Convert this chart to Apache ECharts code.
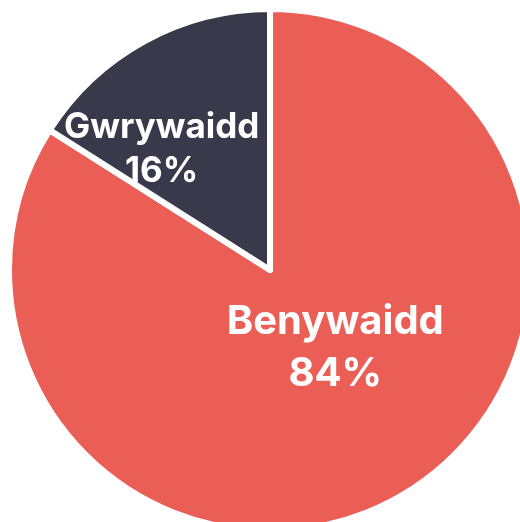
<!DOCTYPE html>
<html>
<head>
<meta charset="utf-8">
<script src="https://cdn.jsdelivr.net/npm/echarts@6/dist/echarts.min.js"></script>
<style>
html,body{margin:0;padding:0;background:#fff;}
#chart{width:520px;height:522px;}
</style>
</head>
<body>
<div id="chart"></div>
<script>
const categories = ["Benywaidd", "Gwrywaidd"];
const values = [84, 16];
const colors = ["#EA5E56", "#383A4C"];

const chart = echarts.init(document.getElementById('chart'));
const labelStyles = [
  { fontSize: 40, lineHeight: 52, offset: [1, -39] },
  { fontSize: 35, lineHeight: 44, offset: [-44, -4] }
];
chart.setOption({
  animation: false,
  series: [{
    type: 'pie',
    center: [270, 270],
    radius: [0, 261],
    startAngle: 90,
    clockwise: true,
    silent: true,
    itemStyle: { borderColor: '#fff', borderWidth: 6 },
    label: {
      show: true,
      position: 'inside',
      color: '#fff',
      fontFamily: 'Inter',
      fontWeight: 'bold',
      formatter: p => p.name + '\n' + Math.round(p.value) + '%'
    },
    labelLine: { show: false },
    data: categories.map((c, i) => ({
      name: c,
      value: values[i],
      itemStyle: { color: colors[i] },
      label: labelStyles[i]
    }))
  }]
});
</script>
</body>
</html>
